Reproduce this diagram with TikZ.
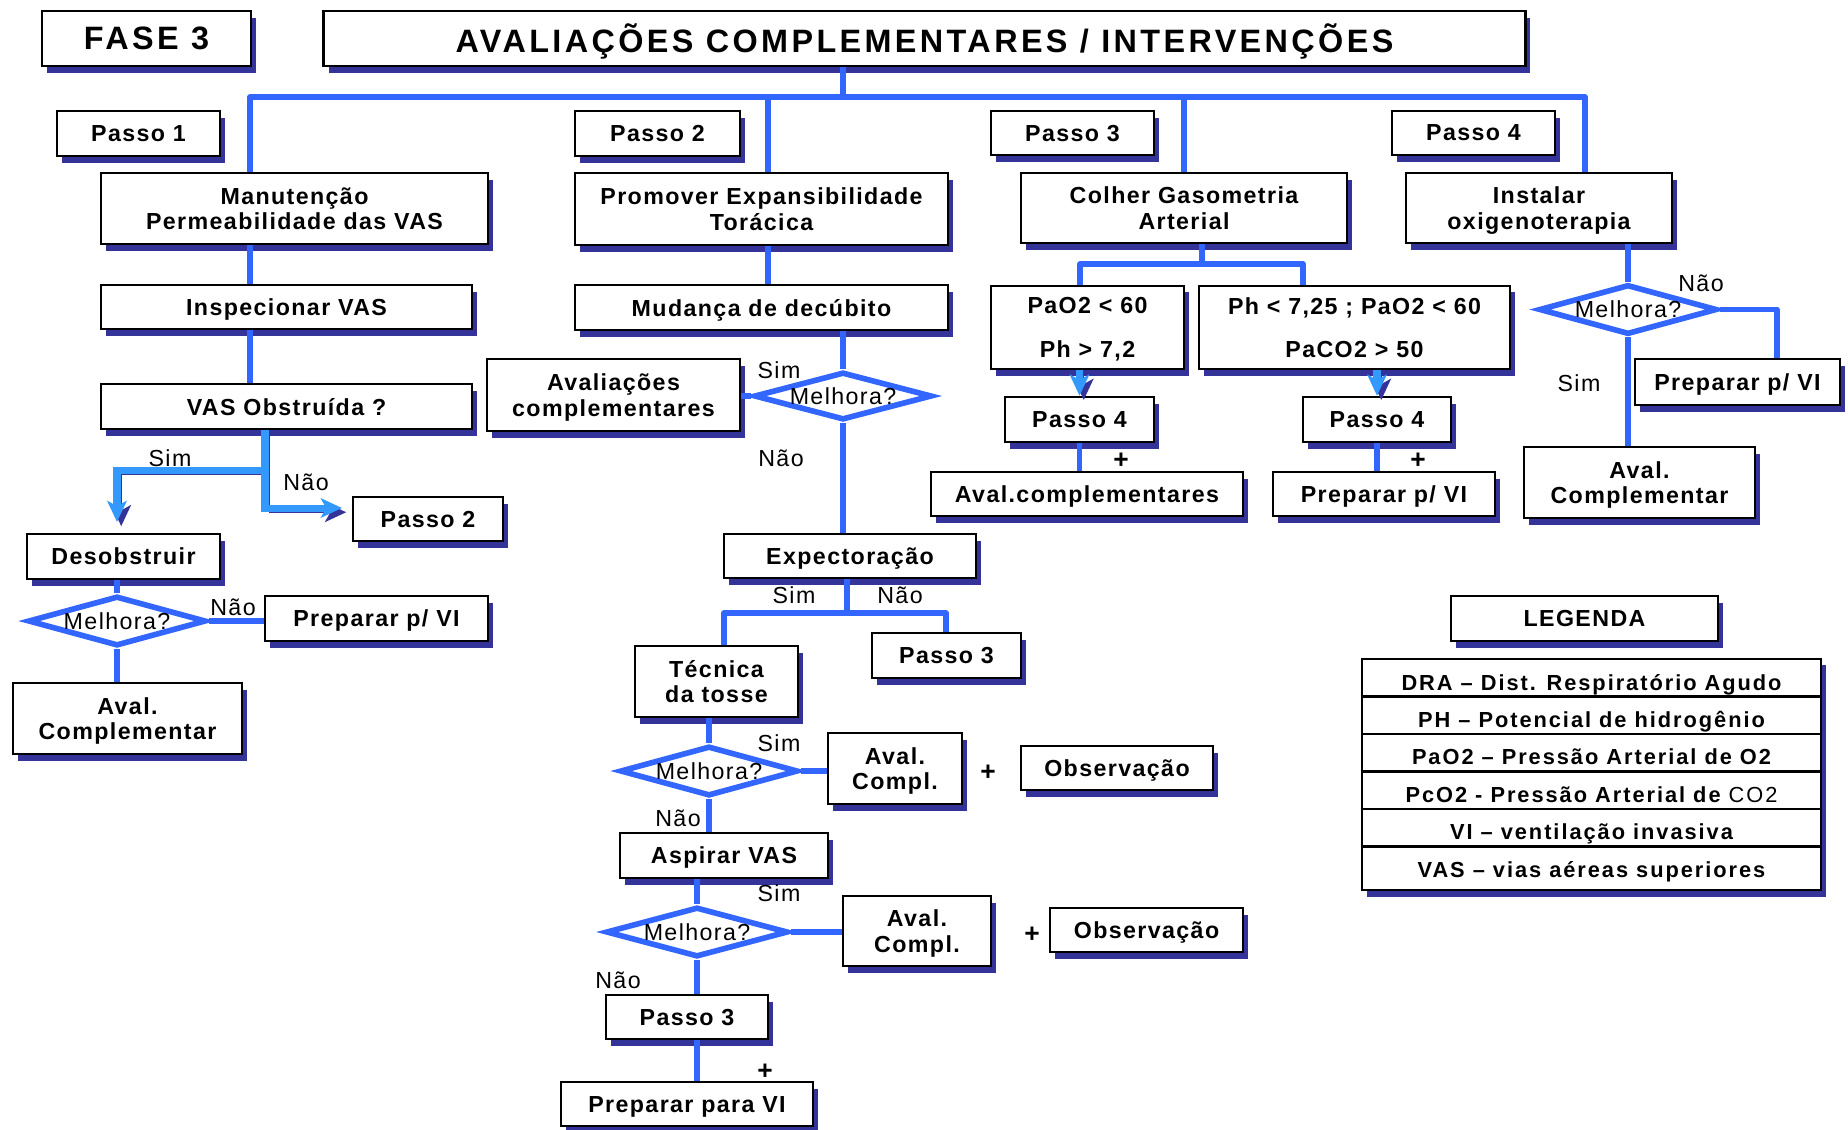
\documentclass[tikz,border=0pt]{standalone}
\usepackage{fontspec}
\setmainfont{Liberation Sans}
\newfontfamily\boxfont{Liberation Sans}[LetterSpace=6]
\newfontfamily\legfont{Liberation Sans}[LetterSpace=9]
\newfontfamily\bigfont{Liberation Sans}[LetterSpace=10.5]
\usetikzlibrary{arrows.meta,shapes.geometric,shadows}
\definecolor{linkblue}{HTML}{3366FF}
\definecolor{skyblue}{HTML}{3399FF}
\definecolor{shadownavy}{HTML}{333399}
\newcommand{\titlefont}{\bigfont\bfseries\fontsize{9.2}{11}\selectfont}
\tikzset{box/.style={draw,line width=.7pt,fill=white,inner sep=1pt,align=center,text depth=0pt,font=\boxfont\bfseries\fontsize{6.6}{7.3}\selectfont,
  drop shadow={shadow xshift=1.4pt,shadow yshift=-1.85pt,fill=shadownavy,opacity=1}},
  dia/.style={diamond,draw=linkblue,line width=1.6pt,fill=white,inner sep=0pt,aspect=3.5,minimum width=1.78cm,minimum height=.5cm,font=\boxfont\fontsize{6.6}{7}\selectfont},
  lab/.style={inner sep=0pt,font=\boxfont\fontsize{6.6}{7}\selectfont},
  plus/.style={inner sep=0pt,font=\bfseries\fontsize{7.5}{8}\selectfont},
  link/.style={draw=linkblue,line width=1.6pt,line join=round},
  fat/.style={draw=skyblue,line width=2pt,-{Stealth[length=6pt,width=5.5pt,inset=1.5pt]},
    preaction={draw=shadownavy,transform canvas={xshift=1.2pt,yshift=-1.2pt}}}}
\begin{document}
\begin{tikzpicture}[x=.01cm,y=-.01cm]
\useasboundingbox (0,0) rectangle (1848,1129);
\node[box,minimum width=2.09cm,minimum height=.55cm,font=\titlefont] (fase) at (146.5,38.5) {FASE 3};
\node[box,minimum width=12.01cm,minimum height=.55cm,font=\titlefont] (title) at (924.5,38.5) {AVALIAÇÕES COMPLEMENTARES / INTERVENÇÕES};
% passo 1
\node[box,minimum width=1.63cm,minimum height=.45cm] (passoA) at (138.5,133.5) {Passo 1};
\node[box,minimum width=3.87cm,minimum height=.71cm] (manut) at (294.5,208.5) {Manutenção\\Permeabilidade das VAS};
\node[box,minimum width=3.71cm,minimum height=.44cm] (insp) at (286.5,307) {Inspecionar VAS};
\node[box,minimum width=3.71cm,minimum height=.45cm] (vasobs) at (286.5,406.5) {VAS Obstruída ?};
\node[box,minimum width=1.5cm,minimum height=.44cm] (irPasso2) at (428,519) {Passo 2};
\node[box,minimum width=1.93cm,minimum height=.45cm] (desob) at (123.5,556.5) {Desobstruir};
\node[dia] (mel1) at (117,621) {Melhora?};
\node[box,minimum width=2.23cm,minimum height=.45cm] (prepA) at (376.5,618.5) {Preparar p/ VI};
\node[box,minimum width=2.29cm,minimum height=.71cm] (avalA) at (127.5,718.5) {Aval.\\Complementar};
% passo 2
\node[box,minimum width=1.65cm,minimum height=.45cm] (passoB) at (657.5,133.5) {Passo 2};
\node[box,minimum width=3.73cm,minimum height=.72cm] (prom) at (761.5,209) {Promover Expansibilidade\\Torácica};
\node[box,minimum width=3.73cm,minimum height=.45cm] (mud) at (761.5,307.5) {Mudança de decúbito};
\node[box,minimum width=2.53cm,minimum height=.72cm] (avalB) at (613.5,395) {Avaliações\\complementares};
\node[dia,minimum height=.48cm] (mel2) at (843,396) {Melhora?};
\node[box,minimum width=2.52cm,minimum height=.44cm] (expec) at (850,556) {Expectoração};
\node[box,minimum width=1.63cm,minimum height=.71cm] (tosse) at (716.5,681.5) {Técnica\\da tosse};
\node[box,minimum width=1.49cm,minimum height=.45cm] (irPasso3) at (946.5,655.5) {Passo 3};
\node[dia] (mel3) at (709,771) {Melhora?};
\node[box,minimum width=1.34cm,minimum height=.71cm] (complA) at (895,768.5) {Aval.\\Compl.};
\node[box,minimum width=1.92cm,minimum height=.44cm] (obsA) at (1117,768) {Observação};
\node[box,minimum width=2.08cm,minimum height=.45cm] (aspir) at (724,855.5) {Aspirar VAS};
\node[dia,minimum width=1.82cm] (mel4) at (697,932) {Melhora?};
\node[box,minimum width=1.48cm,minimum height=.7cm] (complB) at (917,931) {Aval.\\Compl.};
\node[box,minimum width=1.93cm,minimum height=.44cm] (obsB) at (1146.5,930) {Observação};
\node[box,minimum width=1.62cm,minimum height=.44cm] (irPasso3b) at (687,1017) {Passo 3};
\node[box,minimum width=2.52cm,minimum height=.44cm] (prepVI) at (687,1104) {Preparar para VI};
% passo 3
\node[box,minimum width=1.63cm,minimum height=.44cm] (passoC) at (1072.5,133) {Passo 3};
\node[box,minimum width=3.26cm,minimum height=.7cm] (gaso) at (1184,208) {Colher Gasometria\\Arterial};
\node[box,minimum width=1.93cm,minimum height=.83cm] (paoA) at (1087.5,327.5) {PaO2 < 60\\[5pt]Ph > 7,2};
\node[box,minimum width=3.11cm,minimum height=.83cm] (phB) at (1354.5,327.5) {Ph < 7,25 ; PaO2 < 60\\[5pt]PaCO2 > 50};
\node[box,minimum width=1.49cm,minimum height=.45cm] (irPasso4a) at (1079.5,419.5) {Passo 4};
\node[box,minimum width=1.48cm,minimum height=.45cm] (irPasso4b) at (1377,419.5) {Passo 4};
\node[box,minimum width=3.12cm,minimum height=.44cm] (avalC) at (1087,494) {Aval.complementares};
\node[box,minimum width=2.22cm,minimum height=.44cm] (prepB) at (1384,494) {Preparar p/ VI};
% passo 4
\node[box,minimum width=1.63cm,minimum height=.44cm] (passoD) at (1473.5,133) {Passo 4};
\node[box,minimum width=2.66cm,minimum height=.7cm] (oxi) at (1539,208) {Instalar\\oxigenoterapia};
\node[dia] (mel5) at (1628,309.5) {Melhora?};
\node[box,minimum width=2.05cm,minimum height=.46cm] (prepC) at (1737.5,382) {Preparar p/ VI};
\node[box,minimum width=2.31cm,minimum height=.71cm] (avalD) at (1639.5,482.5) {Aval.\\Complementar};
% legenda
\node[box,minimum width=2.67cm,minimum height=.45cm] (legenda) at (1584.5,618.5) {LEGENDA};
\node[box,minimum width=4.59cm,minimum height=2.31cm] (tabela) at (1591.5,774.5) {};
\foreach \i in {1,...,5} \draw[line width=.7pt] (tabela.west |- 0,{659+37.5*\i}) -- (tabela.east |- 0,{659+37.5*\i});
\foreach \y/\txt [count=\i] in {690/{DRA – Dist. Respiratório Agudo},727/{PH – Potencial de hidrogênio},764/{PaO2 – Pressão Arterial de O2},
  802/{PcO2 - Pressão Arterial de \mdseries CO2},839/{VI – ventilação invasiva},877/{VAS – vias aéreas superiores}}
  \node[anchor=base,inner sep=0pt,font=\legfont\bfseries\fontsize{6.2}{7}\selectfont] (leg\i) at (1591.5,\y) {\txt};
% ligacoes
\coordinate (bt) at (843,97); \coordinate (b1) at (250,97); \coordinate (b2) at (768,97);
\coordinate (b3) at (1184,97); \coordinate (b4) at (1585,97);
\draw[link] (title.south -| bt) -- (bt);
\draw[link] (manut.north -| b1) -- (b1) -- (b4) -- (oxi.north -| b4);
\draw[link] (b2) -- (prom.north -| b2); \draw[link] (b3) -- (gaso.north -| b3);
\draw[link] (manut.south -| b1) -- (insp.north -| b1); \draw[link] (insp.south -| b1) -- (vasobs.north -| b1);
\coordinate (j1) at (265,470); \coordinate (t1) at (117,522); \coordinate (t2) at (342,508);
\draw[fat] (vasobs.south -| j1) -- (j1) -| (t1);
\draw[fat] (j1) |- (t2);
\draw[link] (desob.south -| mel1) -- (mel1.north); \draw[link] (mel1.east) -- (prepA.west |- mel1.east);
\draw[link] (mel1.south) -- (avalA.north -| mel1);
\draw[link] (prom.south -| b2) -- (mud.north -| b2); \draw[link] (mud.south -| mel2) -- (mel2.north);
\draw[link] (avalB.east |- mel2) -- (mel2.west); \draw[link] (mel2.south) -- (expec.north -| mel2);
\coordinate (el) at (724,613); \coordinate (er) at (946,613);
\draw[link] (expec.south -| 847,0) -- (847,613); \draw[link] (tosse.north -| el) -- (el) -- (er) -- (irPasso3.north -| er);
\draw[link] (tosse.south -| mel3) -- (mel3.north); \draw[link] (mel3.east) -- (complA.west |- mel3.east);
\draw[link] (mel3.south) -- (aspir.north -| mel3);
\draw[link] (aspir.south -| mel4) -- (mel4.north); \draw[link] (mel4.east) -- (complB.west |- mel4.east);
\draw[link] (mel4.south) -- (irPasso3b.north -| mel4); \draw[link] (irPasso3b.south -| mel4) -- (prepVI.north -| mel4);
\coordinate (gl) at (1080,264); \coordinate (gr) at (1303,264);
\draw[link] (gaso.south -| 1202,0) -- (1202,264); \draw[link] (paoA.north -| gl) -- (gl) -- (gr) -- (phB.north -| gr);
\draw[fat] (paoA.south -| irPasso4a) -- (irPasso4a.north); \draw[fat] (phB.south -| irPasso4b) -- (irPasso4b.north);
\draw[link] (irPasso4a.south) -- (avalC.north -| irPasso4a); \draw[link] (irPasso4b.south) -- (prepB.north -| irPasso4b);
\coordinate (q) at (1777,309.5);
\draw[link] (oxi.south -| mel5) -- (mel5.north); \draw[link] (mel5.east) -- (q) -- (prepC.north -| q);
\draw[link] (mel5.south) -- (avalD.north -| mel5);
% rotulos
\node[lab] (s1) at (170,458) {Sim}; \node[lab] (n1) at (306,482) {Não}; \node[lab] (n2) at (233,607) {Não};
\node[lab] (s3) at (779,370) {Sim}; \node[lab] (n3) at (781,458) {Não};
\node[lab] (s4) at (794,595) {Sim}; \node[lab] (n4) at (900,595) {Não};
\node[lab] (s5) at (779,743) {Sim}; \node[lab] (n5) at (678,818) {Não};
\node[lab] (s6) at (779,893) {Sim}; \node[lab] (n6) at (618,980) {Não};
\node[lab] (n7) at (1701,283) {Não}; \node[lab] (s7) at (1579,383) {Sim};
\node[plus] (p1) at (988,773) {+}; \node[plus] (p2) at (1032,935) {+}; \node[plus] (p3) at (765,1072) {+};
\node[plus] (p4) at (1121,461) {+}; \node[plus] (p5) at (1418,461) {+};
\end{tikzpicture}
\end{document}
